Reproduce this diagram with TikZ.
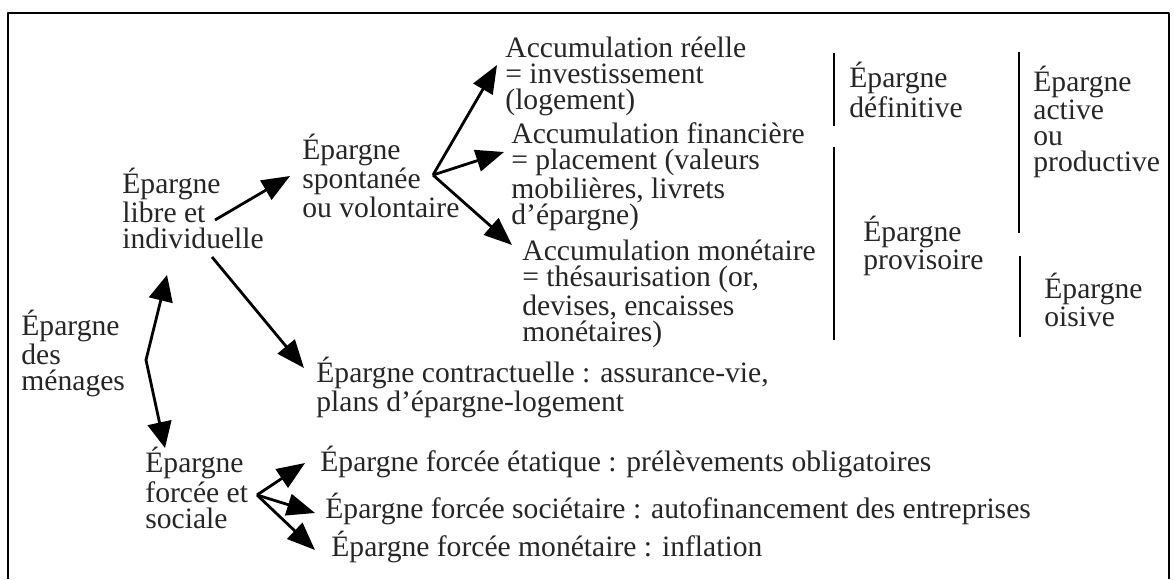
\documentclass[tikz,border=0pt]{standalone}
\usepackage{fontspec}
\setmainfont{Liberation Serif}
\usetikzlibrary{arrows.meta}
\begin{document}
\begin{tikzpicture}[x=0.5pt,y=-0.5pt,line join=round,
	font=\fontsize{14.8}{12.9}\selectfont,
	txt/.style={anchor=base west,align=left,inner sep=0pt,text=black!85},
	fl/.style={-{Triangle[length=14pt,width=11pt]},line width=1.4pt},
	fl2/.style={{Triangle[length=13pt,width=12pt]}-{Triangle[length=13pt,width=12pt]},line width=1.4pt},
	barre/.style={line width=1.1pt}]
	\useasboundingbox (0,0) rectangle (1174,579);
	\draw[line width=1.1pt] (8,579)--(8,13)--(1169,13)--(1169,579);
	\node[txt] (menages) at (21,390) {Épargne\\des\\ménages};
	\node[txt] (libre) at (122,248) {Épargne\\libre et\\individuelle};
	\node[txt] (forcee) at (145,528) {Épargne\\forcée et\\sociale};
	\node[txt] (spont) at (302,217) {Épargne\\spontanée\\ou volontaire};
	\node[txt] (reelle) at (505,109) {Accumulation réelle\\= investissement\\(logement)};
	\node[txt] (financ) at (511,224) {Accumulation financière\\= placement (valeurs\\mobilières, livrets\\d'épargne)};
	\node[txt] (monet) at (522,341) {Accumulation monétaire\\= thésaurisation (or,\\devises, encaisses\\monétaires)};
	\node[txt] (contrat) at (316,411) {Épargne contractuelle : assurance-vie,\\plans d'épargne-logement};
	\node[txt] (etat) at (320,471) {Épargne forcée étatique : prélèvements obligatoires};
	\node[txt] (societ) at (325,518) {Épargne forcée sociétaire : autofinancement des entreprises};
	\node[txt] (monfor) at (331,556) {Épargne forcée monétaire : inflation};
	\node[txt] (definit) at (849,117) {Épargne\\définitive};
	\node[txt] (provis) at (863,269) {Épargne\\provisoire};
	\node[txt] (active) at (1033,171) {Épargne\\active\\ou\\productive};
	\node[txt] (oisive) at (1044,326) {Épargne\\oisive};
	\coordinate (libreA) at (215,220);
	\coordinate (libreB) at (212,257);
	\coordinate (spontA) at (433,175);
	\coordinate (forceeA) at (257,495);
	\coordinate (menH) at (167,275);
	\coordinate (menM) at (146,360);
	\coordinate (menB) at (165,448);
	\draw[fl] (libreA)--(290,176) coordinate (spontE);
	\draw[fl] (libreB)--(304,368) coordinate (contratE);
	\foreach \x/\y in {497/65,504/152,512/245} {
		\draw[fl] (spontA)--(\x,\y);}
	\foreach \x/\y in {305/463,315/513,315/550} {
		\draw[fl] (forceeA)--(\x,\y);}
	\draw[fl2] (menH)--(menM)--(menB);
	\foreach \x/\a/\b in {834/53/126,834/147/340,1019/52/233,1020/256/337} {
		\draw[barre] (\x,\a)--(\x,\b);}
\end{tikzpicture}
\end{document}
